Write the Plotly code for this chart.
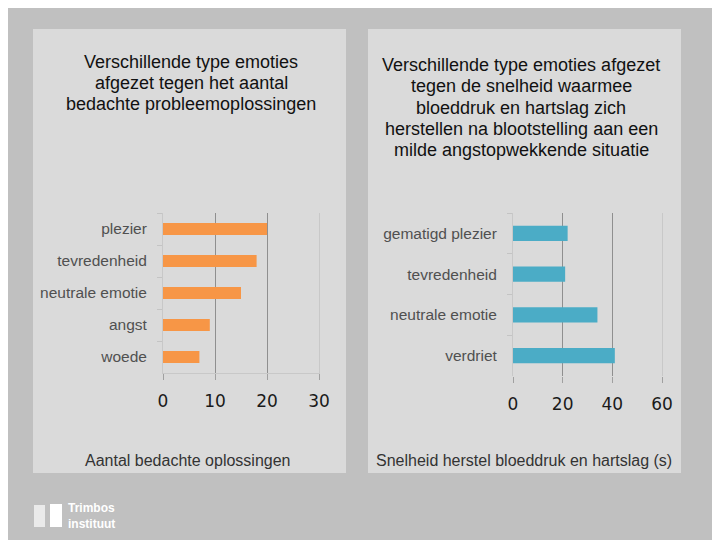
import plotly.graph_objects as go

# ---- data ----
left_categories = ["plezier", "tevredenheid", "neutrale emotie", "angst", "woede"]
left_values = [20, 18, 15, 9, 7]
left_ticks = [0, 10, 20, 30]

right_categories = ["gematigd plezier", "tevredenheid", "neutrale emotie", "verdriet"]
right_values = [22, 21, 34, 41]
right_ticks = [0, 20, 40, 60]

left_title_lines = ["Verschillende type emoties", "afgezet tegen het aantal",
                    "bedachte probleemoplossingen"]
right_title_lines = ["Verschillende type emoties afgezet", "tegen de snelheid waarmee",
                     "bloeddruk en hartslag zich", "herstellen na blootstelling aan een",
                     "milde angstopwekkende situatie"]
left_xlabel = "Aantal bedachte oplossingen"
right_xlabel = "Snelheid herstel bloeddruk en hartslag (s)"

W, H = 720, 540
OFF = 8  # page offset of the plot div
def px(x): return (x - OFF) / W
def py(y): return 1 - (y - OFF) / H

fig = go.Figure()
fig.add_trace(go.Bar(y=left_categories, x=left_values, orientation="h",
                     marker=dict(color="#f79646", line=dict(width=0)), width=0.38,
                     xaxis="x", yaxis="y", hoverinfo="skip"))
fig.add_trace(go.Bar(y=right_categories, x=right_values, orientation="h",
                     marker=dict(color="#4bacc6", line=dict(width=0)), width=0.38,
                     xaxis="x2", yaxis="y2", hoverinfo="skip"))

cat_font = dict(family="Liberation Sans, Arial, sans-serif", size=15.5, color="#505050")
num_font = dict(family="DejaVu Sans, sans-serif", size=17, color="#1a1a1a")

def xaxis_cfg(domain, ticks, anchor, line):
    return dict(domain=domain, range=[ticks[0], ticks[-1]], tickvals=ticks,
                showgrid=False, zeroline=False, showline=line, linecolor="#c8c8c8",
                automargin=False,
                minor=dict(tickvals=ticks[1:-1], showgrid=True, gridcolor="#8f8f8f", gridwidth=1),
                ticks="outside", ticklen=6, tickcolor="#a0a0a0", tickwidth=1,
                ticklabelstandoff=7, tickfont=num_font, anchor=anchor, fixedrange=True)

def yaxis_cfg(domain, anchor):
    return dict(domain=domain, autorange="reversed", type="category", automargin=False,
                showline=True, linecolor="#c8c8c8", mirror=True, showgrid=False,
                ticks="outside", tickson="boundaries", ticklen=5, tickcolor="#c4c4c4",
                ticklabelstandoff=12, tickfont=cat_font, anchor=anchor, fixedrange=True)

fig.update_layout(
    width=W, height=H, margin=dict(l=0, r=0, t=0, b=0, pad=0), autosize=False,
    paper_bgcolor="#c0c0c0", plot_bgcolor="#f2f2f2", showlegend=False,
    xaxis=xaxis_cfg([px(163), px(319)], left_ticks, "y", True),
    yaxis=yaxis_cfg([py(373), py(213)], "x"),
    xaxis2=xaxis_cfg([px(513), px(662)], right_ticks, "y2", False),
    yaxis2=yaxis_cfg([py(376), py(213)], "x2"),
)

# panels
for x0, x1 in [(33, 346), (368, 681)]:
    fig.add_shape(type="rect", xref="paper", yref="paper", x0=px(x0), x1=px(x1),
                  y0=py(473), y1=py(29), fillcolor="#dadada", line=dict(width=0), layer="below")

title_font = dict(family="Liberation Sans, Arial, sans-serif", size=18, color="#111111")
for i, line in enumerate(left_title_lines):
    fig.add_annotation(text=line, xref="paper", yref="paper", x=px(191), y=py(62 + 21.2 * i),
                       xanchor="center", yanchor="middle", showarrow=False, font=title_font)
for i, line in enumerate(right_title_lines):
    fig.add_annotation(text=line, xref="paper", yref="paper", x=px(521), y=py(65 + 21.3 * i),
                       xanchor="center", yanchor="middle", showarrow=False, font=title_font)

label_font = dict(family="Liberation Sans, Arial, sans-serif", size=16, color="#333333")
fig.add_annotation(text=left_xlabel, xref="paper", yref="paper", x=px(188), y=py(460),
                   xanchor="center", yanchor="middle", showarrow=False, font=label_font)
fig.add_annotation(text=right_xlabel, xref="paper", yref="paper", x=px(524), y=py(460),
                   xanchor="center", yanchor="middle", showarrow=False, font=label_font)

# logo
fig.add_shape(type="rect", xref="paper", yref="paper", x0=px(34), x1=px(45), y0=py(527), y1=py(505),
              fillcolor="#f4f4f4", line=dict(width=0), opacity=0.8)
fig.add_shape(type="rect", xref="paper", yref="paper", x0=px(50), x1=px(62), y0=py(527), y1=py(504),
              fillcolor="#ffffff", line=dict(width=0))
logo_font = dict(family="Liberation Sans, Arial, sans-serif", size=12, color="#ffffff")
fig.add_annotation(text="<b>Trimbos<br>instituut</b>", xref="paper", yref="paper", x=px(66), y=py(516),
                   xanchor="left", yanchor="middle", showarrow=False, align="left", font=logo_font)

fig.write_html("out.html")
